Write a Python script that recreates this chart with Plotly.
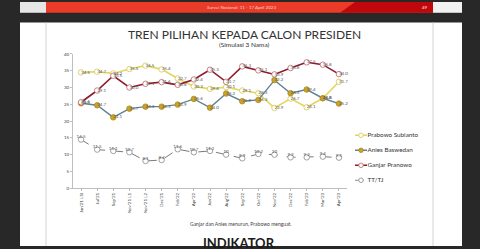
import plotly.graph_objects as go

categories = ["Jan'21 LSI", "Jul'21", "Sep'21", "Nov'21 L1", "Nov'21 L2", "Dec'21",
              "Feb'22", "Apr'22", "Jun'22", "Aug'22", "Sep'22", "Oct'22", "Nov'22",
              "Dec'22", "Feb'23", "Mar'23", "Apr'23"]
prabowo = [34.5, 34.7, 34.2, 35.5, 36.5, 35.4, 32.7, 30.3, 29.6, 30.1, 29.1, 28.3, 23.9, 26.7, 24.1, 26.8, 31.7]
anies = [25.3, 24.7, 21.1, 23.7, 24.3, 24.3, 24.9, 26.6, 24.0, 28.2, 25.9, 26.3, 32.2, 28.3, 29.4, 26.8, 25.2]
ganjar = [25.6, 29.1, 33.5, 30.0, 31.1, 31.6, 30.8, 32.4, 35.3, 31.7, 36.3, 35.1, 33.9, 35.8, 37.5, 36.8, 34.0]
tttj = [14.5, 11.5, 11.1, 10.7, 8.1, 8.4, 11.6, 10.7, 11.1, 10.0, 8.9, 10.2, 10.0, 9.2, 9.2, 9.4, 9.1]
series_names = ["Prabowo Subianto", "Anies Baswedan", "Ganjar Pranowo", "TT/TJ"]

W, H = 480, 249


def X(px):
    return px / W


def Y(py):
    return 1 - py / H


FONT = "Lato"
lbl_font = dict(size=4.5, color="#555555", family=FONT)

fig = go.Figure()

styles = [
    dict(line=dict(color="#e3d560", width=1.6),
         marker=dict(size=5.5, color="white", line=dict(color="#d6c750", width=0.8))),
    dict(line=dict(color="#5f8297", width=1.4),
         marker=dict(size=5.5, color="#c9a42a", line=dict(color="#a8861c", width=0.8))),
    dict(line=dict(color="#8f1b2b", width=1.6),
         marker=dict(size=5.5, color="white", line=dict(color="#b8626b", width=0.8))),
    dict(line=dict(color="#7a7a7a", width=1.0, dash="dash"),
         marker=dict(size=5.5, color="white", line=dict(color="#8a8a8a", width=0.8))),
]
all_series = [prabowo, anies, ganjar, tttj]
positions = ["middle right", "middle right", "middle right", "top center"]

for name, vals, st in zip(series_names, all_series, styles):
    fig.add_trace(go.Scatter(x=categories, y=vals, name=name, mode="lines+markers",
                             cliponaxis=False, **st))

for name, vals, pos in zip(series_names, all_series, positions):
    txt = [("%g" % v) for v in vals] if pos == "top center" else [("%.1f" % v) for v in vals]
    fig.add_trace(go.Scatter(x=categories, y=vals, mode="text", text=txt, textposition=pos,
                             textfont=lbl_font, cliponaxis=False, hoverinfo="skip"))

# legend drawn on its own small axes (rows = series names)
for name, st in zip(series_names, styles):
    lst = dict(st["line"])
    if lst.get("dash"):
        lst["width"] = 0.9
    fig.add_trace(go.Scatter(x=[0, 12], y=[name, name], mode="lines", line=lst,
                             xaxis="x2", yaxis="y2", hoverinfo="skip", cliponaxis=False))
    fig.add_trace(go.Scatter(x=[6], y=[name], mode="markers", marker=dict(st["marker"], size=4.5),
                             xaxis="x2", yaxis="y2", hoverinfo="skip", cliponaxis=False))
    fig.add_trace(go.Scatter(x=[12.5], y=[name], mode="text", text=[name], textposition="middle right",
                             textfont=dict(size=6.3, color="#333333", family=FONT),
                             xaxis="x2", yaxis="y2", hoverinfo="skip", cliponaxis=False))

shapes = [
    dict(type="rect", xref="paper", yref="paper", x0=X(20), x1=X(462), y0=Y(21), y1=Y(249),
         fillcolor="white", line=dict(width=0), layer="below"),
    dict(type="rect", xref="paper", yref="paper", x0=X(20), x1=X(46), y0=Y(0), y1=Y(11),
         fillcolor="#e6e6e6", line=dict(width=0), layer="below"),
    dict(type="rect", xref="paper", yref="paper", x0=X(433), x1=X(462), y0=Y(0), y1=Y(11),
         fillcolor="#f2f2f2", line=dict(width=0), layer="below"),
    dict(type="rect", xref="paper", yref="paper", x0=X(46), x1=X(433), y0=Y(0), y1=Y(11),
         fillcolor="#ea3a28", line=dict(width=0), layer="below"),
    dict(type="path", xref="paper", yref="paper",
         path="M %f %f L %f %f L %f %f L %f %f Z" % (X(355), Y(0), X(433), Y(0), X(433), Y(11), X(340), Y(11)),
         fillcolor="#c0080c", line=dict(width=0), layer="below"),
    dict(type="line", xref="paper", yref="paper", x0=X(46), x1=X(46), y0=Y(21), y1=Y(249),
         line=dict(color="#d4d4d4", width=1), layer="below"),
    dict(type="line", xref="paper", yref="paper", x0=X(433), x1=X(433), y0=Y(21), y1=Y(249),
         line=dict(color="#d4d4d4", width=1), layer="below"),
]


def ann(text, px, py, size, color, bold=False):
    return dict(text=("<b>%s</b>" % text) if bold else text, x=X(px), y=Y(py),
                xref="paper", yref="paper", xanchor="center", yanchor="middle",
                showarrow=False, font=dict(size=size, color=color, family=FONT))


annotations = [
    ann("Survei Nasional: 11 - 17 April 2023", 241, 5.5, 4.5, "#ffd9d0"),
    ann("49", 425, 5.5, 4.5, "#ffe0e0"),
    ann("TREN PILIHAN KEPADA CALON PRESIDEN", 244, 33, 12, "#333333"),
    ann("(Simulasi 3 Nama)", 244, 43.5, 6.5, "#333333"),
    ann("Ganjar dan Anies menurun, Prabowo menguat.", 241, 226.5, 5, "#444444"),
    ann("INDIKATOR", 239, 245.5, 13, "#1a1a1a", bold=True),
]

fig.update_layout(
    width=W, height=H, margin=dict(l=0, r=0, t=0, b=0),
    paper_bgcolor="#282828", plot_bgcolor="rgba(0,0,0,0)",
    showlegend=False,
    shapes=shapes, annotations=annotations,
    xaxis=dict(domain=[X(73), X(347)], type="category", range=[-0.5, 16.5], showgrid=False,
               showline=True, linecolor="#bfbfbf", linewidth=0.8, ticks="outside", ticklen=2,
               tickcolor="#bfbfbf", tickangle=-90, tickfont=dict(size=4.5, color="#444444", family=FONT),
               fixedrange=True),
    yaxis=dict(domain=[Y(190), Y(53)], range=[0, 40], dtick=5, showgrid=False, showline=True,
               zeroline=False, linecolor="#bfbfbf", linewidth=0.8, ticks="outside", ticklen=2,
               tickcolor="#bfbfbf", tickfont=dict(size=4.5, color="#444444", family=FONT),
               fixedrange=True),
    xaxis2=dict(domain=[X(355), X(440)], range=[0, 85], visible=False, fixedrange=True, anchor="y2"),
    yaxis2=dict(domain=[Y(189.6), Y(128.4)], type="category", categoryorder="array",
                categoryarray=series_names, range=[3.5, -0.5], visible=False, fixedrange=True,
                anchor="x2"),
)

fig.write_html("out.html")
